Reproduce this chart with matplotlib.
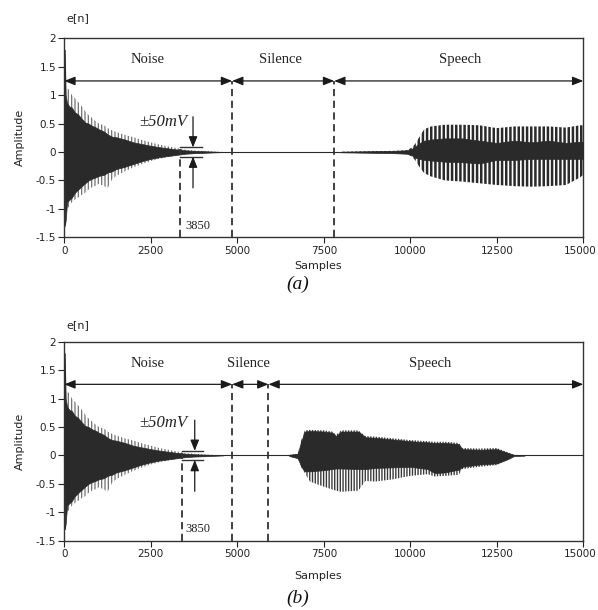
import matplotlib
matplotlib.use("Agg")
import matplotlib.pyplot as plt
import matplotlib.transforms as mtransforms
import numpy as np

plt.rcParams['hatch.linewidth'] = 1.1
plt.rcParams['font.family'] = ['DejaVu Sans']

# ---------------- data ----------------
# Noise segment (same in both panels): envelope of the decaying noise
noise_x = [0, 15, 40, 80, 150, 220, 300, 400, 510, 600, 700, 800, 890, 1000, 1150,
           1250, 1380, 1500, 1750, 2000, 2250, 2500, 2750, 3000, 3250, 3500, 3750,
           4000, 4600]
noise_core_hi = [0.0, 1.8, 1.0, 0.86, 0.8, 0.78, 0.7, 0.66, 0.58, 0.52, 0.5, 0.46,
                 0.44, 0.40, 0.36, 0.31, 0.27, 0.26, 0.22, 0.17, 0.14, 0.11, 0.085,
                 0.065, 0.045, 0.03, 0.02, 0.015, 0.0]
noise_outer_hi = [0.0, 1.85, 1.4, 1.12, 1.09, 1.0, 0.95, 0.88, 0.8, 0.72, 0.65, 0.6,
                  0.55, 0.5, 0.47, 0.42, 0.38, 0.35, 0.3, 0.26, 0.21, 0.17, 0.13, 0.1,
                  0.07, 0.04, 0.03, 0.02, 0.0]
noise_core_lo = [0.0, -1.3, -1.2, -0.88, -0.84, -0.8, -0.72, -0.66, -0.6, -0.55, -0.5,
                 -0.47, -0.45, -0.42, -0.4, -0.36, -0.34, -0.3, -0.26, -0.21, -0.16,
                 -0.12, -0.09, -0.07, -0.05, -0.03, -0.02, -0.015, 0.0]
noise_outer_lo = [0.0, -1.3, -1.27, -1.0, -0.95, -0.88, -0.84, -0.8, -0.75, -0.72,
                  -0.66, -0.62, -0.6, -0.56, -0.6, -0.64, -0.48, -0.42, -0.34, -0.27,
                  -0.21, -0.16, -0.12, -0.09, -0.06, -0.04, -0.03, -0.02, 0.0]

# Speech segment, panel (a)
speech_a_x = [8000, 8500, 9000, 9500, 9900, 10050, 10150, 10250, 10400, 10600, 11000,
              11500, 12000, 12500, 13000, 13500, 14000, 14500, 14900, 15000]
speech_a_outer_hi = [0.005, 0.01, 0.015, 0.02, 0.03, 0.08, 0.15, 0.25, 0.40, 0.45, 0.48,
                     0.48, 0.47, 0.42, 0.45, 0.45, 0.45, 0.43, 0.47, 0.47]
speech_a_outer_lo = [-0.005, -0.01, -0.02, -0.02, -0.03, -0.08, -0.15, -0.25, -0.37,
                     -0.43, -0.50, -0.52, -0.55, -0.58, -0.60, -0.61, -0.60, -0.58,
                     -0.45, -0.40]
speech_a_core_hi = [0.005, 0.01, 0.015, 0.02, 0.03, 0.06, 0.10, 0.15, 0.20, 0.22, 0.24,
                    0.24, 0.20, 0.16, 0.20, 0.17, 0.20, 0.16, 0.18, 0.18]
speech_a_core_lo = [-0.005, -0.01, -0.015, -0.02, -0.03, -0.06, -0.10, -0.12, -0.14,
                    -0.15, -0.17, -0.18, -0.20, -0.14, -0.14, -0.12, -0.12, -0.12,
                    -0.12, -0.12]

# Speech segment, panel (b)
speech_b_x = [6500, 6750, 6850, 6950, 7100, 7500, 7750, 7850, 8000, 8500, 8700, 9000,
              9500, 10000, 10500, 10700, 11000, 11400, 11500, 12000, 12500, 12800,
              13000, 13300]
speech_b_outer_hi = [0.01, 0.03, 0.27, 0.44, 0.45, 0.44, 0.42, 0.36, 0.44, 0.44, 0.34,
                     0.33, 0.30, 0.27, 0.25, 0.24, 0.24, 0.22, 0.13, 0.12, 0.13, 0.06,
                     0.01, 0.005]
speech_b_core_hi = [0.01, 0.03, 0.25, 0.42, 0.43, 0.42, 0.40, 0.34, 0.42, 0.42, 0.32,
                    0.31, 0.28, 0.25, 0.23, 0.22, 0.22, 0.20, 0.11, 0.10, 0.11, 0.05,
                    0.01, 0.005]
speech_b_outer_lo = [-0.01, -0.05, -0.20, -0.31, -0.46, -0.55, -0.60, -0.62, -0.64,
                     -0.62, -0.45, -0.46, -0.42, -0.36, -0.33, -0.37, -0.36, -0.34,
                     -0.24, -0.20, -0.17, -0.08, -0.01, -0.005]
speech_b_core_lo = [-0.01, -0.05, -0.20, -0.28, -0.28, -0.26, -0.24, -0.23, -0.23,
                    -0.24, -0.24, -0.22, -0.21, -0.20, -0.24, -0.31, -0.30, -0.25,
                    -0.20, -0.16, -0.14, -0.07, -0.01, -0.005]

# Annotation values
xticks = [0, 2500, 5000, 7500, 10000, 12500, 15000]
yticks = [-1.5, -1, -0.5, 0, 0.5, 1, 1.5, 2]
ytick_labels = ['-1.5', '-1', '-0.5', '0', '0.5', '1', '1.5', '2']
bounds_a = [4850, 7800]
bounds_b = [4850, 5900]
labels = ['Noise', 'Silence', 'Speech']
label_x_a = [2400, 6260, 11450]
label_x_b = [2400, 5310, 10580]
thr_a = dict(x0=3330, x1=3980, xa=3720, txt_y=0.52)
thr_b = dict(x0=3400, x1=4020, xa=3770, txt_y=0.57)
thr_level = 0.08
thr_label = '3850'

# ---------------- figure ----------------
W, H = 598, 610
fig = plt.figure(figsize=(W / 100, H / 100), dpi=100)
ax_a = fig.add_axes([64.3 / W, 1 - 237.3 / H, 519 / W, 199 / H])
ax_b = fig.add_axes([64.3 / W, 1 - 540.7 / H, 519 / W, 199 / H])

dark = '#2a2a2a'
serif = 'Liberation Serif'


def draw_wave(ax, x, core_lo, core_hi, out_lo, out_hi, hatch, hcolor, hlw):
    with plt.rc_context({'hatch.linewidth': hlw}):
        pc = ax.fill_between(x, out_lo, out_hi, facecolor='none', edgecolor=hcolor,
                             hatch=hatch, linewidth=0, zorder=2)
        if hasattr(pc, 'set_hatch_linewidth'):
            pc.set_hatch_linewidth(hlw)
    ax.fill_between(x, core_lo, core_hi, facecolor=dark, edgecolor=dark,
                    linewidth=0.5, zorder=3)


def setup(ax, bounds, label_x, thr, speech):
    ax.set_xlim(0, 15000)
    ax.set_ylim(-1.5, 2)
    ax.axhline(0, color=dark, lw=0.8, zorder=1)
    draw_wave(ax, noise_x, noise_core_lo, noise_core_hi, noise_outer_lo,
              noise_outer_hi, '|||||', '#707070', 0.9)
    draw_wave(ax, *speech)

    ax.set_xticks(xticks)
    ax.set_xticklabels([str(t) for t in xticks])
    ax.set_yticks(yticks)
    ax.set_yticklabels(ytick_labels)
    ax.tick_params(axis='both', direction='out', length=4, width=0.8, pad=2,
                   labelsize=7.5, colors='#222222')
    last = ax.get_xticklabels()[-1]
    last.set_transform(last.get_transform() +
                       mtransforms.ScaledTranslation(-3 / 100, 0, fig.dpi_scale_trans))
    for s in ax.spines.values():
        s.set_linewidth(1.0)
        s.set_color('#333333')

    # segment arrows
    edges = [0] + bounds + [15000]
    for i in range(3):
        ax.annotate('', xy=(edges[i + 1], 1.25), xytext=(edges[i], 1.25),
                    arrowprops=dict(arrowstyle='<|-|>,head_length=0.65,head_width=0.26',
                                    mutation_scale=10, color='#1a1a1a', lw=0.9,
                                    shrinkA=0, shrinkB=0), zorder=5)
        ax.text(label_x[i], 1.62, labels[i], family=serif, fontsize=10.5,
                ha='center', va='center', color='#222222')
    for b in bounds:
        ax.plot([b, b], [-1.5, 1.25], ls=(0, (4, 2.5)), color='#333333', lw=1.3,
                zorder=4)

    # threshold marker
    ax.plot([thr['x0'], thr['x0']], [-1.5, 0.05], ls=(0, (4, 2.5)), color='#333333',
            lw=1.3, zorder=4)
    for lv in (thr_level, -thr_level):
        ax.plot([thr['x0'], thr['x1']], [lv, lv], color='#333333', lw=1.0, zorder=4)
    ax.annotate('', xy=(thr['xa'], thr_level), xytext=(thr['xa'], 0.62),
                arrowprops=dict(arrowstyle='-|>,head_length=0.65,head_width=0.26',
                                mutation_scale=10, color='#1a1a1a', lw=0.9,
                                shrinkA=0, shrinkB=0), zorder=5)
    ax.annotate('', xy=(thr['xa'], -thr_level), xytext=(thr['xa'], -0.63),
                arrowprops=dict(arrowstyle='-|>,head_length=0.65,head_width=0.26',
                                mutation_scale=10, color='#1a1a1a', lw=0.9,
                                shrinkA=0, shrinkB=0), zorder=5)
    ax.text(3550, thr['txt_y'], '±50mV', family=serif, style='italic', fontsize=12,
            ha='right', va='center', color='#222222')
    ax.text(3490, -1.3, thr_label, family=serif, fontsize=9, ha='left', va='center',
            color='#222222')


setup(ax_a, bounds_a, label_x_a, thr_a,
      (speech_a_x, speech_a_core_lo, speech_a_core_hi, speech_a_outer_lo,
       speech_a_outer_hi, '||||', dark, 1.8))
setup(ax_b, bounds_b, label_x_b, thr_b,
      (speech_b_x, speech_b_core_lo, speech_b_core_hi, speech_b_outer_lo,
       speech_b_outer_hi, '||||||', '#3a3a3a', 1.0))


def ftext(x, y, s, **kw):
    fig.text(x / W, 1 - y / H, s, **kw)


for top, lab in ((0, '(a)'), (304, '(b)')):
    ftext(66, 18 + top + (3 if top else 0), 'e[n]', fontsize=8, ha='left', va='center',
          color='#222222')
    ftext(20, 137 + top, 'Amplitude', fontsize=8, rotation=90, ha='center',
          va='center', color='#222222')
    ftext(318, 266 + top + (6 if top else 0), 'Samples', fontsize=8, ha='center',
          va='center', color='#222222')
    ftext(298, 284 + top + (10 if top else 0), lab, family=serif, style='italic',
          fontsize=14, ha='center', va='center', color='#111111')

fig.savefig('out.png', dpi=100, facecolor='white')
